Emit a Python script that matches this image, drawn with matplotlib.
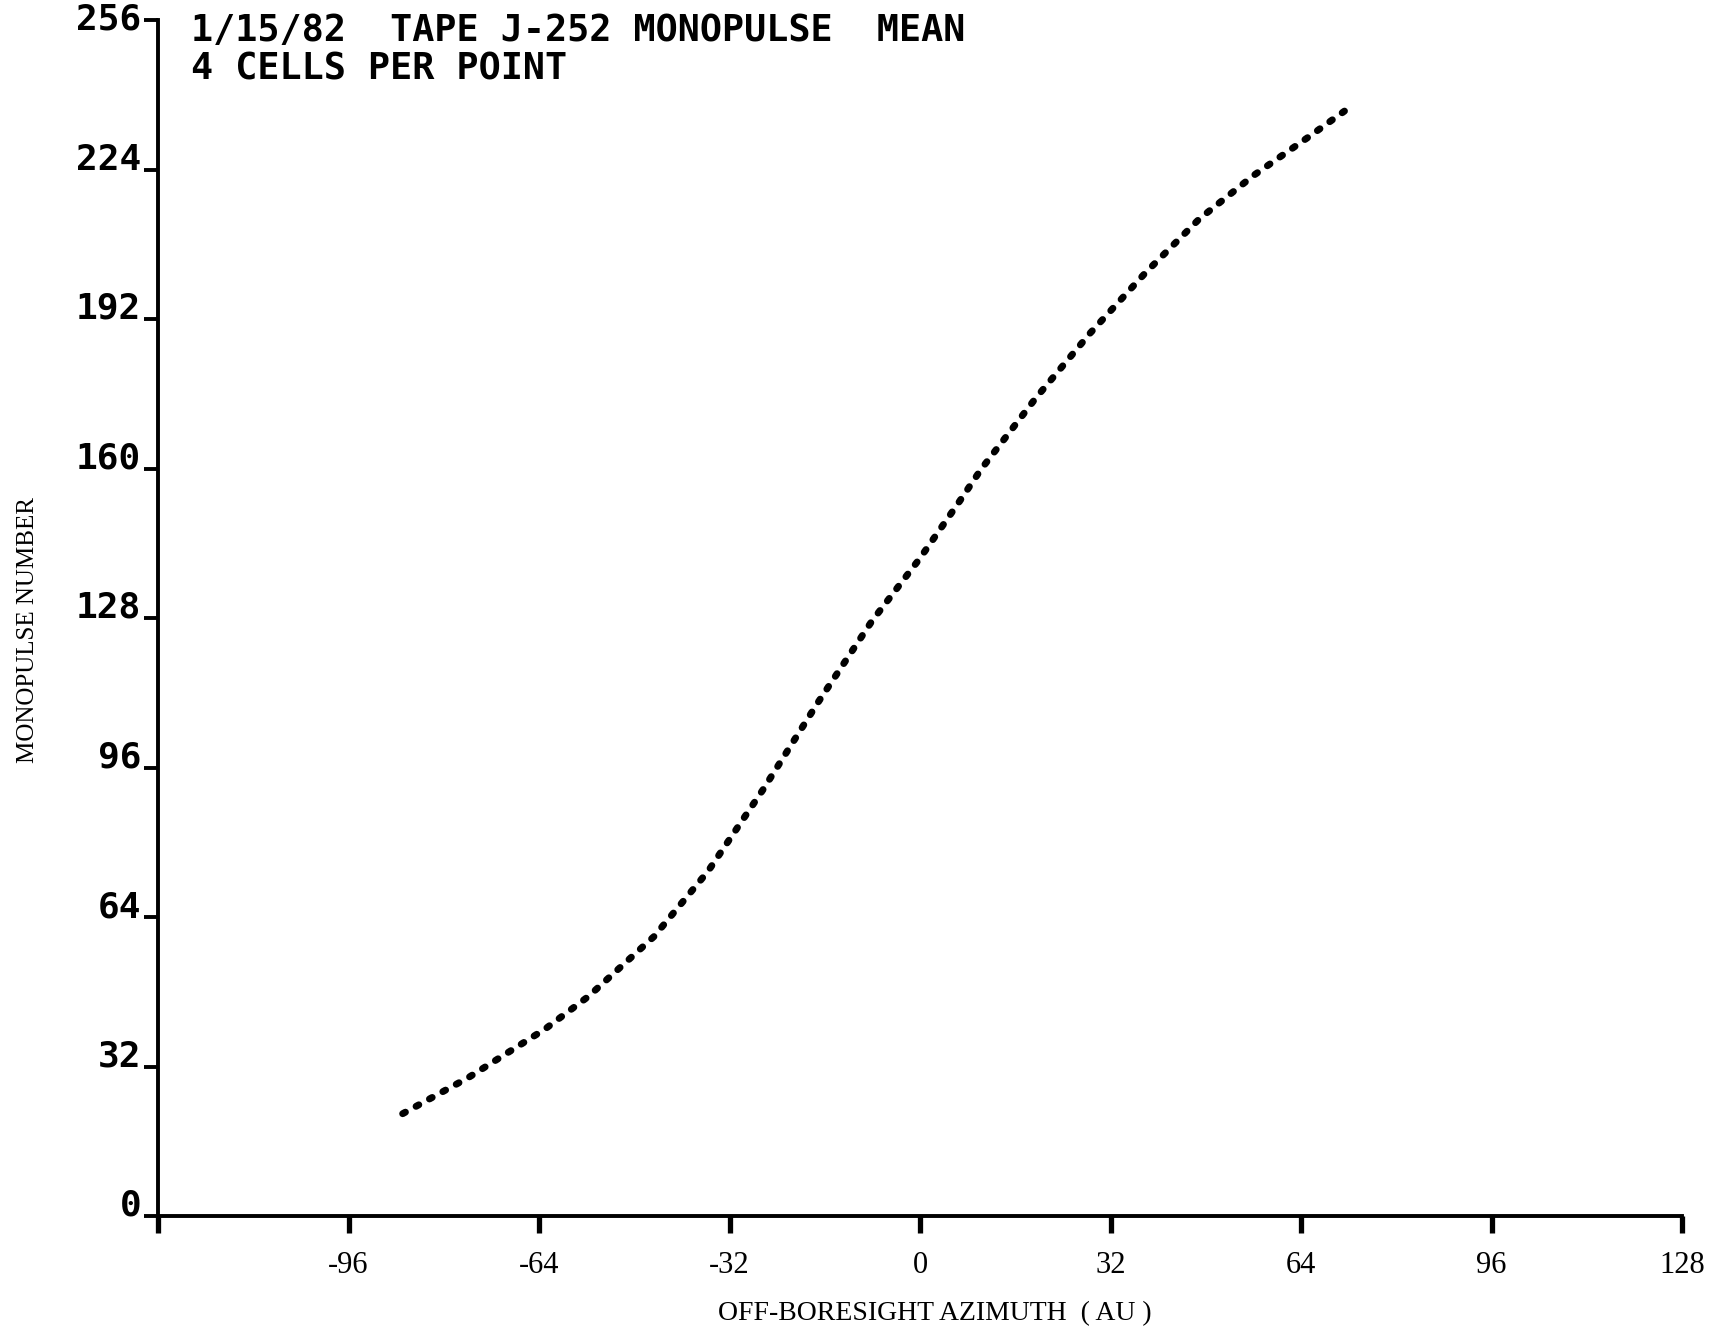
# Monopulse mean curve, tape J-252 (1/15/82), 4 cells per point
import numpy as np
import matplotlib.pyplot as plt

# Off-boresight azimuth (AU) and monopulse number
azimuth = [-86.9, -75.9, -63.0, -55.7, -44.7, -35.6, -26.4, -17.2, -8.1, 0.0,
           6.6, 10.3, 19.4, 28.6, 37.8, 46.9, 56.0, 65.2, 71.3]
monopulse = [21.9, 29.6, 40.0, 47.0, 59.8, 73.8, 91.2, 109.8, 127.3, 140.8,
             152.9, 159.9, 175.0, 189.0, 201.8, 213.4, 222.7, 230.9, 236.5]

x_ticks = [-128, -96, -64, -32, 0, 32, 64, 96, 128]
x_tick_labels = ['', '-96', '-64', '-32', '0', '32', '64', '96', '128']
y_ticks = [0, 32, 64, 96, 128, 160, 192, 224, 256]
y_tick_labels = ['0', '32', '64', '96', '128', '160', '192', '224', '256']

title_lines = ['1/15/82  TAPE J-252 MONOPULSE  MEAN', '4 CELLS PER POINT']

W, H = 1709, 1328
fig = plt.figure(figsize=(W / 100, H / 100), dpi=100)
ax = fig.add_axes([158 / W, 1 - 1216 / H, (1682 - 158) / W, (1216 - 20) / H])

# dotted curve, fat round dots like the printer output
ax.plot(azimuth, monopulse, color='black', linewidth=5.0,
        linestyle=(0, (0.45, 1.75)), dash_capstyle='round', solid_capstyle='round')

ax.set_xlim(-128, 128)
ax.set_ylim(0, 256)
for side in ['top', 'right']:
    ax.spines[side].set_visible(False)
for side in ['left', 'bottom']:
    ax.spines[side].set_linewidth(2.8)

ax.set_xticks(x_ticks)
ax.set_xticklabels(x_tick_labels, family='Liberation Serif', fontsize=22)
ax.set_yticks(y_ticks)
ax.set_yticklabels(y_tick_labels, family='DejaVu Sans Mono', fontweight='bold', fontsize=26)
ax.tick_params(axis='x', direction='out', length=12, width=3.8, pad=13)
ax.tick_params(axis='y', direction='out', length=10, width=2.8, pad=2)
for lab in ax.get_yticklabels():
    lab.set_verticalalignment('baseline')
ax.get_yticklabels()[-1].set_verticalalignment('center')

ax.set_xlabel('OFF-BORESIGHT AZIMUTH  ( AU )', family='Liberation Serif', fontsize=20)
ax.xaxis.set_label_coords(0.51, -0.071)
ax.set_ylabel('MONOPULSE NUMBER', family='Liberation Serif', fontsize=18)
ax.yaxis.set_label_coords(-0.078, 0.49)

fig.text(191 / W, 1 - 41 / H, title_lines[0], family='DejaVu Sans Mono',
         fontweight='bold', fontsize=26.5, va='baseline')
fig.text(191 / W, 1 - 80 / H, title_lines[1], family='DejaVu Sans Mono',
         fontweight='bold', fontsize=26.5, va='baseline')

fig.savefig('out.png', dpi=100, facecolor='white')
